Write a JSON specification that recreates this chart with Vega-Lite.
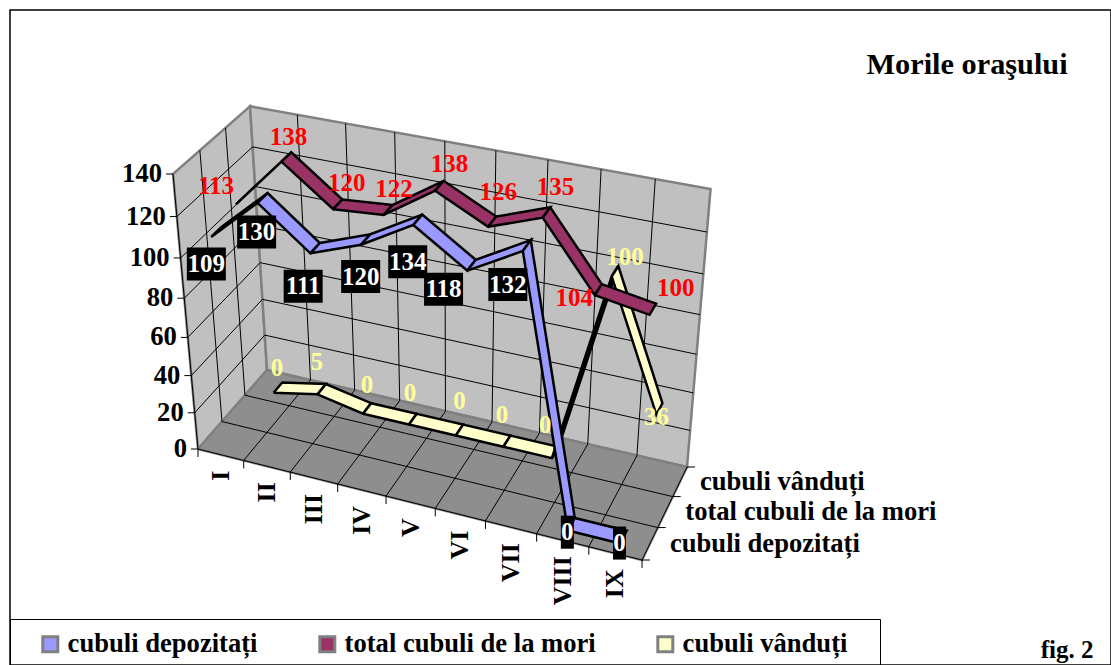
{"$schema":"https://vega.github.io/schema/vega-lite/v6.json","width":1101,"height":655,"autosize":{"type":"none"},"padding":{"left":10,"top":10,"right":0,"bottom":0},"background":"white","config":{"view":{"stroke":"black","strokeWidth":1.5},"text":{"font":"Liberation Serif","fontWeight":"bold"}},
"title":{"text":"Morile oraşului","subtitle":"\u2800\u00a0\u00a0\u00a0\u00a0\u00a0\u00a0\u00a0\u00a0\u00a0\u00a0\u00a0\u00a0\u00a0\u00a0\u00a0\u00a0\u00a0\u00a0\u00a0\u00a0\u00a0\u00a0\u00a0\u00a0\u00a0fig. 2","anchor":"start","orient":"top","offset":-653,"dx":857,"font":"Liberation Serif","fontWeight":"bold","fontSize":30.3,"subtitleFont":"Liberation Serif","subtitleFontWeight":"bold","subtitleFontSize":25,"subtitleColor":"black","subtitlePadding":558,"color":"black"},
"datasets":{
"cubes":[
{"series":"cubuli vânduți","m":1,"value":0},{"series":"cubuli vânduți","m":2,"value":5},{"series":"cubuli vânduți","m":3,"value":0},{"series":"cubuli vânduți","m":4,"value":0},{"series":"cubuli vânduți","m":5,"value":0},{"series":"cubuli vânduți","m":6,"value":0},{"series":"cubuli vânduți","m":7,"value":0},{"series":"cubuli vânduți","m":8,"value":100},{"series":"cubuli vânduți","m":9,"value":36},
{"series":"total cubuli de la mori","m":1,"value":113},{"series":"total cubuli de la mori","m":2,"value":138},{"series":"total cubuli de la mori","m":3,"value":120},{"series":"total cubuli de la mori","m":4,"value":122},{"series":"total cubuli de la mori","m":5,"value":138},{"series":"total cubuli de la mori","m":6,"value":126},{"series":"total cubuli de la mori","m":7,"value":135},{"series":"total cubuli de la mori","m":8,"value":104},{"series":"total cubuli de la mori","m":9,"value":100},
{"series":"cubuli depozitați","m":1,"value":109},{"series":"cubuli depozitați","m":2,"value":130},{"series":"cubuli depozitați","m":3,"value":111},{"series":"cubuli depozitați","m":4,"value":120},{"series":"cubuli depozitați","m":5,"value":134},{"series":"cubuli depozitați","m":6,"value":118},{"series":"cubuli depozitați","m":7,"value":132},{"series":"cubuli depozitați","m":8,"value":0},{"series":"cubuli depozitați","m":9,"value":0}],
"walls":[
{"wall":"left","c":0,"u":0,"d":0,"v":0},{"wall":"left","c":1,"u":0,"d":3,"v":0},{"wall":"left","c":2,"u":0,"d":3,"v":140},{"wall":"left","c":3,"u":0,"d":0,"v":140},{"wall":"left","c":4,"u":0,"d":0,"v":0},
{"wall":"back","c":0,"u":0,"d":3,"v":0},{"wall":"back","c":1,"u":9,"d":3,"v":0},{"wall":"back","c":2,"u":9,"d":3,"v":140},{"wall":"back","c":3,"u":0,"d":3,"v":140},{"wall":"back","c":4,"u":0,"d":3,"v":0},
{"wall":"floor","c":0,"u":0,"d":0,"v":0},{"wall":"floor","c":1,"u":9,"d":0,"v":0},{"wall":"floor","c":2,"u":9,"d":3,"v":0},{"wall":"floor","c":3,"u":0,"d":3,"v":0},{"wall":"floor","c":4,"u":0,"d":0,"v":0}],
"grid":[
{"id":"h20","c":0,"u":0,"d":0,"v":20},{"id":"h20","c":1,"u":0,"d":3,"v":20},{"id":"h20","c":2,"u":9,"d":3,"v":20},
{"id":"h40","c":0,"u":0,"d":0,"v":40},{"id":"h40","c":1,"u":0,"d":3,"v":40},{"id":"h40","c":2,"u":9,"d":3,"v":40},
{"id":"h60","c":0,"u":0,"d":0,"v":60},{"id":"h60","c":1,"u":0,"d":3,"v":60},{"id":"h60","c":2,"u":9,"d":3,"v":60},
{"id":"h80","c":0,"u":0,"d":0,"v":80},{"id":"h80","c":1,"u":0,"d":3,"v":80},{"id":"h80","c":2,"u":9,"d":3,"v":80},
{"id":"h100","c":0,"u":0,"d":0,"v":100},{"id":"h100","c":1,"u":0,"d":3,"v":100},{"id":"h100","c":2,"u":9,"d":3,"v":100},
{"id":"h120","c":0,"u":0,"d":0,"v":120},{"id":"h120","c":1,"u":0,"d":3,"v":120},{"id":"h120","c":2,"u":9,"d":3,"v":120},
{"id":"u1","c":0,"u":1,"d":0,"v":0},{"id":"u1","c":1,"u":1,"d":3,"v":0},{"id":"u1","c":2,"u":1,"d":3,"v":140},
{"id":"u2","c":0,"u":2,"d":0,"v":0},{"id":"u2","c":1,"u":2,"d":3,"v":0},{"id":"u2","c":2,"u":2,"d":3,"v":140},
{"id":"u3","c":0,"u":3,"d":0,"v":0},{"id":"u3","c":1,"u":3,"d":3,"v":0},{"id":"u3","c":2,"u":3,"d":3,"v":140},
{"id":"u4","c":0,"u":4,"d":0,"v":0},{"id":"u4","c":1,"u":4,"d":3,"v":0},{"id":"u4","c":2,"u":4,"d":3,"v":140},
{"id":"u5","c":0,"u":5,"d":0,"v":0},{"id":"u5","c":1,"u":5,"d":3,"v":0},{"id":"u5","c":2,"u":5,"d":3,"v":140},
{"id":"u6","c":0,"u":6,"d":0,"v":0},{"id":"u6","c":1,"u":6,"d":3,"v":0},{"id":"u6","c":2,"u":6,"d":3,"v":140},
{"id":"u7","c":0,"u":7,"d":0,"v":0},{"id":"u7","c":1,"u":7,"d":3,"v":0},{"id":"u7","c":2,"u":7,"d":3,"v":140},
{"id":"u8","c":0,"u":8,"d":0,"v":0},{"id":"u8","c":1,"u":8,"d":3,"v":0},{"id":"u8","c":2,"u":8,"d":3,"v":140},
{"id":"d1","c":0,"u":0,"d":1,"v":140},{"id":"d1","c":1,"u":0,"d":1,"v":0},{"id":"d1","c":2,"u":9,"d":1,"v":0},
{"id":"d2","c":0,"u":0,"d":2,"v":140},{"id":"d2","c":1,"u":0,"d":2,"v":0},{"id":"d2","c":2,"u":9,"d":2,"v":0},
{"id":"axisV","c":0,"u":0,"d":0,"v":140},{"id":"axisV","c":1,"u":0,"d":0,"v":0},{"id":"axisV","c":2,"u":9,"d":0,"v":0},{"id":"axisV","c":3,"u":9,"d":3,"v":0}],
"ticks":[
{"kind":"v","u":0,"d":0,"v":0},{"kind":"v","u":0,"d":0,"v":20},{"kind":"v","u":0,"d":0,"v":40},{"kind":"v","u":0,"d":0,"v":60},{"kind":"v","u":0,"d":0,"v":80},{"kind":"v","u":0,"d":0,"v":100},{"kind":"v","u":0,"d":0,"v":120},{"kind":"v","u":0,"d":0,"v":140},
{"kind":"m","u":0,"d":0,"v":0},{"kind":"m","u":1,"d":0,"v":0},{"kind":"m","u":2,"d":0,"v":0},{"kind":"m","u":3,"d":0,"v":0},{"kind":"m","u":4,"d":0,"v":0},{"kind":"m","u":5,"d":0,"v":0},{"kind":"m","u":6,"d":0,"v":0},{"kind":"m","u":7,"d":0,"v":0},{"kind":"m","u":8,"d":0,"v":0},{"kind":"m","u":9,"d":0,"v":0},
{"kind":"d","u":9,"d":0,"v":0},{"kind":"d","u":9,"d":1,"v":0},{"kind":"d","u":9,"d":2,"v":0},{"kind":"d","u":9,"d":3,"v":0}],
"axisLabels":[
{"kind":"v","label":"0","u":0,"d":0,"v":0},{"kind":"v","label":"20","u":0,"d":0,"v":20},{"kind":"v","label":"40","u":0,"d":0,"v":40},{"kind":"v","label":"60","u":0,"d":0,"v":60},{"kind":"v","label":"80","u":0,"d":0,"v":80},{"kind":"v","label":"100","u":0,"d":0,"v":100},{"kind":"v","label":"120","u":0,"d":0,"v":120},{"kind":"v","label":"140","u":0,"d":0,"v":140},
{"kind":"m","label":"I","u":0.5,"d":0,"v":0},{"kind":"m","label":"II","u":1.5,"d":0,"v":0},{"kind":"m","label":"III","u":2.5,"d":0,"v":0},{"kind":"m","label":"IV","u":3.5,"d":0,"v":0},{"kind":"m","label":"V","u":4.5,"d":0,"v":0},{"kind":"m","label":"VI","u":5.5,"d":0,"v":0},{"kind":"m","label":"VII","u":6.5,"d":0,"v":0},{"kind":"m","label":"VIII","u":7.5,"d":0,"v":0},{"kind":"m","label":"IX","u":8.5,"d":0,"v":0},
{"kind":"d","label":"cubuli depozitați","u":9,"d":0.5,"v":0},{"kind":"d","label":"total cubuli de la mori","u":9,"d":1.5,"v":0},{"kind":"d","label":"cubuli vânduți","u":9,"d":2.5,"v":0}]
},
"layer":[
{"data":{"name":"walls"},"transform":[
{"calculate":"1-0.0818*datum.u/9+0.0659*datum.d/3-0.0896*datum.v/140","as":"w"},
{"calculate":"(198+391.5*datum.u/9+86.6*datum.d/3-40.5*datum.v/140)/datum.w","as":"sx"},
{"calculate":"(449+65.2*datum.u/9-54.6*datum.d/3-290.6*datum.v/140)/datum.w","as":"sy"},
{"calculate":"datum.wall=='floor'?'#8e8e8e':'#c0c0c0'","as":"tone"}],
"mark":{"type":"line","stroke":"#808080","strokeWidth":2.5},
"encoding":{"x":{"field":"sx","type":"quantitative","scale":{"domain":[10,1111]},"axis":null},"y":{"field":"sy","type":"quantitative","scale":{"domain":[665,10]},"axis":null},"order":{"field":"c"},"detail":{"field":"wall"},"fill":{"field":"tone","type":"nominal","scale":null}}},
{"data":{"name":"grid"},"transform":[
{"calculate":"1-0.0818*datum.u/9+0.0659*datum.d/3-0.0896*datum.v/140","as":"w"},
{"calculate":"(198+391.5*datum.u/9+86.6*datum.d/3-40.5*datum.v/140)/datum.w","as":"sx"},
{"calculate":"(449+65.2*datum.u/9-54.6*datum.d/3-290.6*datum.v/140)/datum.w","as":"sy"}],
"mark":{"type":"line","stroke":"black","strokeWidth":1},
"encoding":{"x":{"field":"sx","type":"quantitative","scale":{"domain":[10,1111]},"axis":null},"y":{"field":"sy","type":"quantitative","scale":{"domain":[665,10]},"axis":null},"order":{"field":"c"},"detail":{"field":"id"}}},
{"data":{"name":"ticks"},"transform":[
{"calculate":"1-0.0818*datum.u/9+0.0659*datum.d/3-0.0896*datum.v/140","as":"w"},
{"calculate":"(198+391.5*datum.u/9+86.6*datum.d/3-40.5*datum.v/140)/datum.w","as":"sx"},
{"calculate":"(449+65.2*datum.u/9-54.6*datum.d/3-290.6*datum.v/140)/datum.w","as":"sy"},
{"calculate":"datum.sx+(datum.kind=='v'?-7:datum.kind=='d'?8:0)","as":"sx2"},
{"calculate":"datum.sy+(datum.kind=='m'?8:0)","as":"sy2"}],
"mark":{"type":"rule","stroke":"black","strokeWidth":1},
"encoding":{"x":{"field":"sx","type":"quantitative","scale":{"domain":[10,1111]},"axis":null},"y":{"field":"sy","type":"quantitative","scale":{"domain":[665,10]},"axis":null},"x2":{"field":"sx2"},"y2":{"field":"sy2"}}},
{"data":{"name":"cubes"},"transform":[
{"window":[{"op":"lead","field":"value","as":"next"}],"sort":[{"field":"m"}],"groupby":["series"]},
{"filter":"isValid(datum.next)"},
{"calculate":"indexof(['cubuli depozitați','total cubuli de la mori','cubuli vânduți'],datum.series)+0.5","as":"slot"},
{"calculate":"[0,1,2,3,4]","as":"c"},
{"flatten":["c"]},
{"calculate":"datum.m-0.5+((datum.c==1||datum.c==2)?1:0)","as":"u"},
{"calculate":"datum.slot+((datum.c==2||datum.c==3)?0.2:-0.2)","as":"d"},
{"calculate":"(datum.c==1||datum.c==2)?datum.next:datum.value","as":"v"},
{"calculate":"1-0.0818*datum.u/9+0.0659*datum.d/3-0.0896*datum.v/140","as":"w"},
{"calculate":"(198+391.5*datum.u/9+86.6*datum.d/3-40.5*datum.v/140)/datum.w","as":"sx"},
{"calculate":"(449+65.2*datum.u/9-54.6*datum.d/3-290.6*datum.v/140)/datum.w","as":"sy"},
{"calculate":"datum.series+datum.m","as":"seg"},
{"calculate":"datum.next-datum.value>60?'under':datum.series","as":"face"}],
"mark":{"type":"line","stroke":"black","strokeWidth":2.5,"strokeJoin":"miter"},
"encoding":{"x":{"field":"sx","type":"quantitative","scale":{"domain":[10,1111]},"axis":null},"y":{"field":"sy","type":"quantitative","scale":{"domain":[665,10]},"axis":null},"order":{"field":"c"},"detail":{"field":"seg"},
"fill":{"field":"face","type":"nominal","scale":{"domain":["cubuli depozitați","total cubuli de la mori","cubuli vânduți","under"],"range":["#9999ff","#993366","#ffffcc","#000000"]},
"legend":{"values":["cubuli depozitați","total cubuli de la mori","cubuli vânduți"],"title":null,"orient":"none","legendX":0,"legendY":609,"direction":"horizontal","columns":3,"padding":12,"strokeColor":"black","symbolType":"square","symbolSize":225,"symbolStrokeColor":"black","symbolStrokeWidth":3,"symbolOpacity":1,"symbolOffset":15,"labelOffset":4,"columnPadding":41,"labelFont":"Liberation Serif","labelFontWeight":"bold","labelFontSize":26.6,"labelColor":"black","labelLimit":400,"labelExpr":"datum.label=='cubuli vânduți'?datum.label+'\u2800':datum.label"}}}},
{"data":{"name":"axisLabels"},"transform":[{"filter":"datum.kind=='v'"},
{"calculate":"1-0.0818*datum.u/9+0.0659*datum.d/3-0.0896*datum.v/140","as":"w"},
{"calculate":"(198+391.5*datum.u/9+86.6*datum.d/3-40.5*datum.v/140)/datum.w","as":"sx"},
{"calculate":"(449+65.2*datum.u/9-54.6*datum.d/3-290.6*datum.v/140)/datum.w","as":"sy"}],
"mark":{"type":"text","align":"right","baseline":"middle","dx":-11,"fontSize":26.6,"color":"black"},
"encoding":{"x":{"field":"sx","type":"quantitative","scale":{"domain":[10,1111]},"axis":null},"y":{"field":"sy","type":"quantitative","scale":{"domain":[665,10]},"axis":null},"text":{"field":"label"}}},
{"data":{"name":"axisLabels"},"transform":[{"filter":"datum.kind=='m'"},
{"calculate":"1-0.0818*datum.u/9+0.0659*datum.d/3-0.0896*datum.v/140","as":"w"},
{"calculate":"(198+391.5*datum.u/9+86.6*datum.d/3-40.5*datum.v/140)/datum.w","as":"sx"},
{"calculate":"(449+65.2*datum.u/9-54.6*datum.d/3-290.6*datum.v/140)/datum.w+16","as":"sy"}],
"mark":{"type":"text","align":"right","baseline":"middle","angle":270,"fontSize":26,"color":"black"},
"encoding":{"x":{"field":"sx","type":"quantitative","scale":{"domain":[10,1111]},"axis":null},"y":{"field":"sy","type":"quantitative","scale":{"domain":[665,10]},"axis":null},"text":{"field":"label"}}},
{"data":{"name":"axisLabels"},"transform":[{"filter":"datum.kind=='d'"},
{"calculate":"1-0.0818*datum.u/9+0.0659*datum.d/3-0.0896*datum.v/140","as":"w"},
{"calculate":"(198+391.5*datum.u/9+86.6*datum.d/3-40.5*datum.v/140)/datum.w","as":"sx"},
{"calculate":"(449+65.2*datum.u/9-54.6*datum.d/3-290.6*datum.v/140)/datum.w","as":"sy"}],
"mark":{"type":"text","align":"left","baseline":"middle","dx":20,"fontSize":26.6,"color":"black"},
"encoding":{"x":{"field":"sx","type":"quantitative","scale":{"domain":[10,1111]},"axis":null},"y":{"field":"sy","type":"quantitative","scale":{"domain":[665,10]},"axis":null},"text":{"field":"label"}}},
{"data":{"name":"cubes"},"transform":[
{"calculate":"indexof(['cubuli depozitați','total cubuli de la mori','cubuli vânduți'],datum.series)","as":"i"},
{"filter":"datum.i==0"},
{"calculate":"1-0.0818*(datum.m-0.5)/9+0.0659*(datum.i+0.5)/3-0.0896*datum.value/140","as":"w"},
{"calculate":"(198+391.5*(datum.m-0.5)/9+86.6*(datum.i+0.5)/3-40.5*datum.value/140)/datum.w+[-10,-6,-12,-5,-10,-28,-19,-4,-4][datum.m-1]","as":"lx"},
{"calculate":"(449+65.2*(datum.m-0.5)/9-54.6*(datum.i+0.5)/3-290.6*datum.value/140)/datum.w+[32,34,38,37,42,24,39,8,6][datum.m-1]","as":"ly"},
{"calculate":"datum.value>0?19.5:6.5","as":"hw"},
{"calculate":"datum.lx-datum.hw","as":"x1"},{"calculate":"datum.lx+datum.hw","as":"x2"},
{"calculate":"datum.ly-16.5","as":"y1"},{"calculate":"datum.ly+16.5","as":"y2"}],
"mark":{"type":"rect","color":"black"},
"encoding":{"x":{"field":"x1","type":"quantitative","scale":{"domain":[10,1111]},"axis":null},"x2":{"field":"x2"},"y":{"field":"y1","type":"quantitative","scale":{"domain":[665,10]},"axis":null},"y2":{"field":"y2"}}},
{"data":{"name":"cubes"},"transform":[
{"calculate":"indexof(['cubuli depozitați','total cubuli de la mori','cubuli vânduți'],datum.series)","as":"i"},
{"calculate":"1-0.0818*(datum.m-0.5)/9+0.0659*(datum.i+0.5)/3-0.0896*datum.value/140","as":"w"},
{"calculate":"(198+391.5*(datum.m-0.5)/9+86.6*(datum.i+0.5)/3-40.5*datum.value/140)/datum.w+[[-10,-6,-12,-5,-10,-28,-19,-4,-4],[-25,2,9,6,10,6,9,-24,23],[-1,-5,0,-3,0,-5,-10,10,-3]][datum.i][datum.m-1]","as":"lx"},
{"calculate":"(449+65.2*(datum.m-0.5)/9-54.6*(datum.i+0.5)/3-290.6*datum.value/140)/datum.w+[[32,34,38,37,42,24,39,8,6],[-14,-20,-21,-21,-22,-30,-25,8,-21],[-20,-27,-23,-26,-29,-26,-27,-14,8]][datum.i][datum.m-1]","as":"ly"},
{"calculate":"['white','#ff0000','#ffff99'][datum.i]","as":"tc"}],
"mark":{"type":"text","align":"center","baseline":"middle","fontSize":25},
"encoding":{"x":{"field":"lx","type":"quantitative","scale":{"domain":[10,1111]},"axis":null},"y":{"field":"ly","type":"quantitative","scale":{"domain":[665,10]},"axis":null},"text":{"field":"value","type":"quantitative"},"color":{"field":"tc","type":"nominal","scale":null,"legend":null}}}
]}
